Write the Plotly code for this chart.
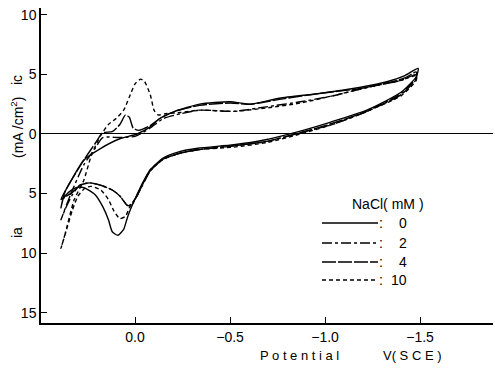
import plotly.graph_objects as go

# ---- data (potential V vs SCE, current density mA/cm2; cathodic positive) ----
V_0 = [0.39, 0.37, 0.34, 0.27, 0.18, 0.08, -0.01, -0.08, -0.13, -0.21, -0.34, -0.50, -0.61, -0.76,
       -0.97, -1.18, -1.33, -1.42, -1.49, -1.48, -1.40, -1.22, -1.03, -0.86, -0.68, -0.52, -0.33,
       -0.23, -0.15, -0.08, -0.04, -0.01, 0.01, 0.04, 0.06, 0.09, 0.12, 0.14, 0.17, 0.21, 0.27,
       0.31, 0.35, 0.38, 0.39]
I_0 = [-6.2, -4.9, -4.0, -2.2, -1.2, -0.4, 0.0, 0.6, 1.3, 1.9, 2.5, 2.7, 2.5, 3.0,
       3.4, 3.9, 4.4, 4.9, 5.5, 4.8, 3.5, 2.0, 1.0, 0.2, -0.5, -0.9, -1.2,
       -1.5, -2.0, -3.0, -4.1, -5.1, -5.8, -7.0, -8.0, -8.5, -8.2, -7.2, -6.1, -5.1, -4.5,
       -4.5, -4.9, -5.5, -6.2]

V_2 = [0.39, 0.34, 0.27, 0.21, 0.17, 0.08, 0.00, -0.08, -0.15, -0.24, -0.34, -0.52, -0.70, -0.87,
       -1.04, -1.22, -1.40, -1.48, -1.48, -1.40, -1.22, -1.04, -0.87, -0.70, -0.52, -0.34, -0.24,
       -0.15, -0.08, -0.04, -0.01, 0.02, 0.04, 0.08, 0.12, 0.18, 0.24, 0.29, 0.33, 0.37, 0.39]
I_2 = [-7.2, -5.1, -2.6, -1.2, -0.3, -0.3, -0.2, 0.5, 1.3, 1.7, 2.0, 1.9, 2.3, 2.7,
       3.2, 3.9, 4.5, 5.0, 4.7, 3.4, 1.9, 0.8, 0.1, -0.6, -1.0, -1.3, -1.6,
       -2.1, -3.1, -4.3, -5.2, -6.0, -6.0, -5.2, -4.7, -4.3, -4.1, -4.3, -5.1, -6.4, -7.2]

V_4 = [0.39, 0.35, 0.27, 0.21, 0.17, 0.12, 0.08, 0.05, 0.03, 0.01, -0.02, -0.08, -0.13, -0.21,
       -0.34, -0.50, -0.61, -0.76, -0.97, -1.18, -1.33, -1.42, -1.48, -1.48, -1.40, -1.22, -1.04,
       -0.87, -0.70, -0.52, -0.34, -0.24, -0.15, -0.08, -0.04, -0.01, 0.02, 0.04, 0.08, 0.12, 0.18,
       0.24, 0.29, 0.33, 0.37, 0.39]
I_4 = [-5.5, -4.3, -2.2, -0.8, 0.1, 0.2, 0.8, 1.6, 1.4, 0.5, 0.3, 0.7, 1.3, 1.9,
       2.4, 2.6, 2.5, 2.9, 3.4, 3.8, 4.3, 4.7, 5.2, 4.6, 3.3, 1.9, 0.9,
       0.1, -0.6, -1.0, -1.3, -1.6, -2.1, -3.1, -4.2, -5.2, -5.9, -6.0, -5.2, -4.7, -4.3,
       -4.1, -4.3, -4.9, -5.3, -5.5]

V_10 = [0.39, 0.37, 0.32, 0.27, 0.23, 0.18, 0.14, 0.10, 0.06, 0.03, 0.00, -0.03, -0.05, -0.08,
        -0.10, -0.12, -0.16, -0.24, -0.34, -0.52, -0.70, -0.87, -1.04, -1.22, -1.40, -1.48, -1.48,
        -1.40, -1.22, -1.04, -0.87, -0.70, -0.52, -0.34, -0.24, -0.15, -0.08, -0.04, -0.01, 0.03,
        0.05, 0.08, 0.11, 0.14, 0.18, 0.23, 0.26, 0.30, 0.33, 0.36, 0.39]
I_10 = [-9.6, -8.5, -5.5, -3.9, -1.8, -0.1, 0.8, 1.3, 2.0, 3.1, 4.2, 4.6, 4.4, 3.3,
        2.0, 1.6, 1.7, 1.8, 2.0, 1.9, 2.2, 2.6, 3.2, 3.9, 4.5, 4.9, 4.5,
        3.2, 1.9, 0.8, 0.0, -0.7, -1.1, -1.3, -1.6, -2.1, -3.0, -4.2, -5.2, -6.2,
        -6.9, -7.1, -6.5, -5.5, -4.7, -4.4, -4.5, -5.2, -6.4, -8.0, -9.6]

series_names = ["0", "2", "4", "10"]
series_V = [V_0, V_2, V_4, V_10]
series_I = [I_0, I_2, I_4, I_10]
dashes = ["solid", "10px,3px,3px,3px", "14px,2px", "4px,3px"]

x_tickvals = [0.0, -0.5, -1.0, -1.5]
x_ticktext = ["0.0", "\u22120.5", "\u22121.0", "\u22121.5"]
y_tickvals = [10, 5, 0, -5, -10, -15]
y_ticktext = ["10", "5", "0", "5", "10", "15"]

W, H = 495, 368
ML, MR, MT, MB = 41, 2, 8, 45
PW, PH = W - ML - MR, H - MT - MB

def px(x):
    return (x - ML) / PW

def py(y):
    return 1 - (y - MT) / PH

fig = go.Figure()
for name, vv, ii, d in zip(series_names, series_V, series_I, dashes):
    fig.add_trace(go.Scatter(x=vv, y=ii, mode="lines", name=name,
                             line=dict(color="black", width=1.4, dash=d, shape="spline", smoothing=0.6),
                             showlegend=False, cliponaxis=False))

FONT = "Liberation Sans, Arial, sans-serif"
fig.update_layout(
    width=W, height=H,
    margin=dict(l=ML, r=MR, t=MT, b=MB, pad=0),
    paper_bgcolor="white", plot_bgcolor="white",
    font=dict(family=FONT, size=14, color="black"),
    xaxis=dict(range=[0.495, -1.884], tickvals=x_tickvals, ticktext=x_ticktext,
               ticks="inside", ticklen=6, tickwidth=1.2, tickcolor="black",
               showline=True, linecolor="black", linewidth=1.5, automargin=False,
               showgrid=False, zeroline=False, tickfont=dict(size=14)),
    yaxis=dict(range=[-15.86, 10.57], tickvals=y_tickvals, ticktext=y_ticktext,
               ticks="inside", ticklen=6, tickwidth=1.2, tickcolor="black",
               showline=True, linecolor="black", linewidth=1.5, automargin=False,
               showgrid=False, zeroline=True, zerolinecolor="black", zerolinewidth=1.2,
               tickfont=dict(size=14)),
)

ann = []
def pa(text, x, y, size=14, angle=0, xanchor="center"):
    ann.append(dict(text=text, x=px(x), y=py(y), xref="paper", yref="paper",
                    showarrow=False, textangle=angle, xanchor=xanchor, yanchor="middle",
                    font=dict(size=size, family=FONT, color="black")))

# axis titles
pa("ic", 17, 80, angle=-90)
pa("(mA /cm<sup>2</sup>)", 17, 128, angle=-90)
pa("ia", 17, 233, angle=-90)
pa("P o t e n t i a l", 299, 355, size=13)
pa("V( S C E )", 412, 355, size=13)

# legend
pa("NaCl( mM )", 388, 204)
leg_y = [223, 243, 262, 280]
shapes = []
for lab, yy, d in zip(series_names, leg_y, dashes):
    shapes.append(dict(type="line", xref="paper", yref="paper",
                       x0=px(322), x1=px(378), y0=py(yy), y1=py(yy),
                       line=dict(color="black", width=1.5, dash=d)))
    pa(":", 381, yy)
    ann.append(dict(text=lab, x=px(409), y=py(yy), xref="paper", yref="paper",
                    showarrow=False, xanchor="right", yanchor="middle",
                    font=dict(size=14, family=FONT, color="black")))

fig.update_layout(annotations=ann, shapes=shapes)
fig.write_html("out.html", config={"displayModeBar": False},
               post_script="document.body.style.margin='0';document.body.style.padding='0';")
